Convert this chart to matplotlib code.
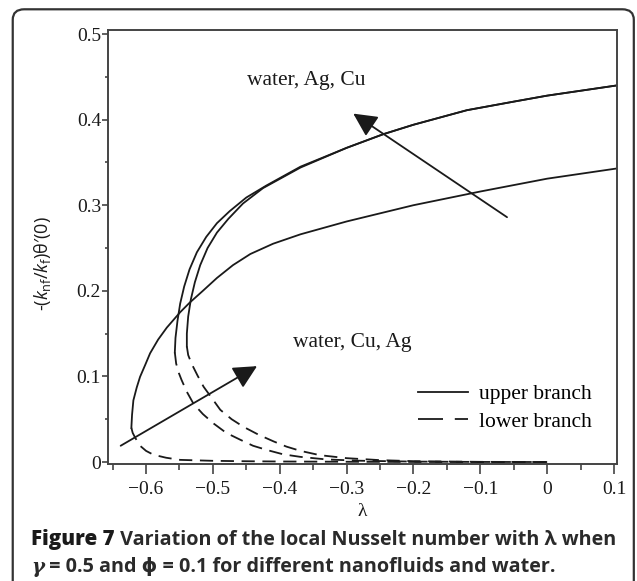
"""Local Nusselt number vs lambda, upper/lower branches for water, Cu and Ag."""

import matplotlib

matplotlib.use("Agg")
import matplotlib.pyplot as plt  # noqa: E402
from matplotlib.lines import Line2D  # noqa: E402
from matplotlib.patches import FancyBboxPatch  # noqa: E402

plt.rcParams["lines.scale_dashes"] = False
plt.rcParams["mathtext.fontset"] = "custom"
plt.rcParams["mathtext.rm"] = "Open Sans"
plt.rcParams["mathtext.it"] = "Open Sans:italic"
plt.rcParams["mathtext.bf"] = "Open Sans:bold"

# --- data ---------------------------------------------------------------
# water
water_up_lam = [-0.622, -0.621, -0.619, -0.614, -0.609, -0.601, -0.594, -0.582, -0.569,
                -0.549, -0.535, -0.515, -0.494, -0.470, -0.444, -0.410, -0.369, -0.300,
                -0.200, -0.100, 0.000, 0.105]
water_up_nu = [0.040, 0.055, 0.072, 0.087, 0.0995, 0.114, 0.127, 0.143, 0.157,
               0.175, 0.186, 0.200, 0.215, 0.230, 0.243, 0.255, 0.266, 0.281,
               0.300, 0.316, 0.331, 0.343]
water_lo_lam = [-0.622, -0.620, -0.616, -0.609, -0.600, -0.589, -0.570, -0.549, -0.500,
                -0.450, -0.400, -0.300, -0.200, -0.100, 0.000]
water_lo_nu = [0.040, 0.034, 0.028, 0.019, 0.013, 0.0085, 0.0050, 0.0025, 0.0014,
               0.0009, 0.0006, 0.0003, 0.0001, 0.0000, 0.0000]

# Cu (outer nose)
cu_up_lam = [-0.557, -0.556, -0.553, -0.549, -0.543, -0.535, -0.524, -0.510, -0.494,
             -0.475, -0.450, -0.420, -0.369, -0.300, -0.245, -0.200, -0.120, -0.050,
             0.000, 0.105]
cu_up_nu = [0.128, 0.145, 0.165, 0.185, 0.205, 0.225, 0.245, 0.263, 0.279,
            0.293, 0.309, 0.323, 0.345, 0.367, 0.383, 0.394, 0.411, 0.421,
            0.428, 0.440]
cu_lo_lam = [-0.557, -0.555, -0.551, -0.547, -0.539, -0.529, -0.515, -0.499, -0.480,
             -0.459, -0.440, -0.419, -0.395, -0.369, -0.330, -0.280, -0.200, -0.100, 0.000]
cu_lo_nu = [0.128, 0.115, 0.104, 0.096, 0.082, 0.068, 0.056, 0.045, 0.034,
            0.026, 0.019, 0.014, 0.009, 0.006, 0.003, 0.0015, 0.0005, 0.0001, 0.0000]

# Ag (inner nose)
ag_up_lam = [-0.539, -0.539, -0.537, -0.533, -0.527, -0.519, -0.508, -0.494, -0.477,
             -0.455, -0.425, -0.369, -0.300, -0.245, -0.200, -0.120, -0.050, 0.000, 0.105]
ag_up_nu = [0.135, 0.150, 0.170, 0.190, 0.210, 0.230, 0.250, 0.268, 0.284,
            0.302, 0.320, 0.344, 0.367, 0.383, 0.394, 0.411, 0.421, 0.428, 0.440]
ag_lo_lam = [-0.539, -0.537, -0.532, -0.523, -0.514, -0.501, -0.489, -0.472, -0.454,
             -0.432, -0.409, -0.390, -0.369, -0.340, -0.300, -0.250, -0.200, -0.100, 0.000]
ag_lo_nu = [0.135, 0.125, 0.115, 0.101, 0.088, 0.074, 0.061, 0.050, 0.041,
            0.032, 0.024, 0.018, 0.013, 0.008, 0.0045, 0.0022, 0.0010, 0.0002, 0.0000]

x_ticks = [-0.6, -0.5, -0.4, -0.3, -0.2, -0.1, 0.0, 0.1]
x_labels = ["\u22120.6", "\u22120.5", "\u22120.4", "\u22120.3", "\u22120.2", "\u22120.1", "0", "0.1"]
x_minor = [-0.65, -0.55, -0.45, -0.35, -0.25, -0.15, -0.05, 0.05]
y_ticks = [0.0, 0.1, 0.2, 0.3, 0.4, 0.5]
y_labels = ["0", "0.1", "0.2", "0.3", "0.4", "0.5"]
y_minor = [0.05, 0.15, 0.25, 0.35, 0.45]

# arrows: (tail, tip) in data coords
upper_arrow = ((-0.060, 0.286), (-0.290, 0.407))
lower_arrow = ((-0.638, 0.019), (-0.434, 0.112))

SERIF = "Liberation Serif"
SANS = ["Open Sans", "DejaVu Sans"]
INK = "#1a1a1a"
DASH = (0, (9.5, 5.5))

fig = plt.figure(figsize=(6.37, 5.81), dpi=100)
fig.patch.set_facecolor("white")

# rounded frame around figure + caption (bottom edge runs off the page)
frame = FancyBboxPatch((0.020, -0.05), 0.975, 1.034, boxstyle="round,pad=0,rounding_size=0.018",
                       transform=fig.transFigure, facecolor="none", edgecolor="#333333",
                       linewidth=1.6, clip_on=False)
fig.patches.append(frame)

ax = fig.add_axes([0.1695, 0.2014, 0.7991, 0.7470])

for lam, nu in [(water_up_lam, water_up_nu), (cu_up_lam, cu_up_nu), (ag_up_lam, ag_up_nu)]:
    ax.plot(lam, nu, color=INK, lw=1.3, solid_joinstyle="round")
for lam, nu in [(water_lo_lam, water_lo_nu), (cu_lo_lam, cu_lo_nu), (ag_lo_lam, ag_lo_nu)]:
    ax.plot(lam, nu, color=INK, lw=1.3, linestyle=DASH)

for (tail, tip) in (upper_arrow, lower_arrow):
    ax.annotate("", xy=tip, xytext=tail,
                arrowprops=dict(arrowstyle="-|>,head_length=0.6,head_width=0.3",
                                mutation_scale=24, lw=1.3, color=INK, shrinkA=0, shrinkB=0))

ax.text(-0.449, 0.446, "water, Ag, Cu", fontsize=15.5, family=SERIF, color=INK, va="center")
ax.text(-0.380, 0.140, "water, Cu, Ag", fontsize=15.5, family=SERIF, color=INK, va="center")

handles = [Line2D([], [], color=INK, lw=1.3),
           Line2D([], [], color=INK, lw=1.3, linestyle=(0, (18, 8.5)))]
ax.legend(handles, ["upper branch", "lower branch"], loc="center", bbox_to_anchor=(0.78, 0.129),
          frameon=False, prop={"family": SERIF, "size": 15.5}, handlelength=2.3,
          handletextpad=0.5, labelspacing=0.35, borderpad=0)

ax.set_xlim(-0.657, 0.1045)
ax.set_ylim(-0.0023, 0.5047)
ax.set_xticks(x_ticks)
ax.set_xticklabels(x_labels)
ax.set_xticks(x_minor, minor=True)
ax.set_yticks(y_ticks)
ax.set_yticklabels(y_labels)
ax.set_yticks(y_minor, minor=True)

for side in ("left", "bottom", "top", "right"):
    ax.spines[side].set_color("#444444")
    ax.spines[side].set_linewidth(1.4)

ax.tick_params(axis="x", which="major", direction="out", length=7, width=1.2, color="#444444",
               labelsize=14, pad=5)
ax.tick_params(axis="x", which="minor", direction="out", length=4, width=1.2, color="#444444")
ax.tick_params(axis="y", which="major", direction="out", length=4, width=1.2, color="#444444",
               labelsize=14, pad=1)
ax.tick_params(axis="y", which="minor", direction="out", length=2, width=1.2, color="#444444")
for lbl in ax.get_xticklabels() + ax.get_yticklabels():
    lbl.set_family(SERIF)
    lbl.set_color(INK)

ax.set_xlabel("\u03bb", family=SERIF, fontsize=14, color=INK, labelpad=4)
fig.text(0.066, 0.547, r"-($k_{\rm nf}/k_{\rm f}$)θ′(0)", rotation=90, fontsize=13,
         family=SANS, color=INK, ha="center", va="center")

# caption, two lines; second part of each line is chained to the end of the first
CAP_SIZE = 14.2
cap1 = fig.text(0.049, 0.062, "Figure 7", fontsize=CAP_SIZE + 0.6, family=SANS, weight="heavy",
                color=INK, va="baseline")
ax.annotate(" Variation of the local Nusselt number with \u03bb when", xy=(1, 0), xycoords=cap1,
            va="bottom", ha="left", fontsize=CAP_SIZE, family=SANS, weight="bold",
            color="#2a2a2a", annotation_clip=False)
cap2 = fig.text(0.049, 0.014, "\u03b3", fontsize=CAP_SIZE, family="DejaVu Serif", style="italic",
                weight="bold", color="#2a2a2a", va="baseline")
ax.annotate(" = 0.5 and \u03d5 = 0.1 for different nanofluids and water.", xy=(1, 0),
            xycoords=cap2, va="bottom", ha="left", fontsize=CAP_SIZE, family=SANS,
            weight="bold", color="#2a2a2a", annotation_clip=False)

fig.savefig("out.png", dpi=100, facecolor="white")
